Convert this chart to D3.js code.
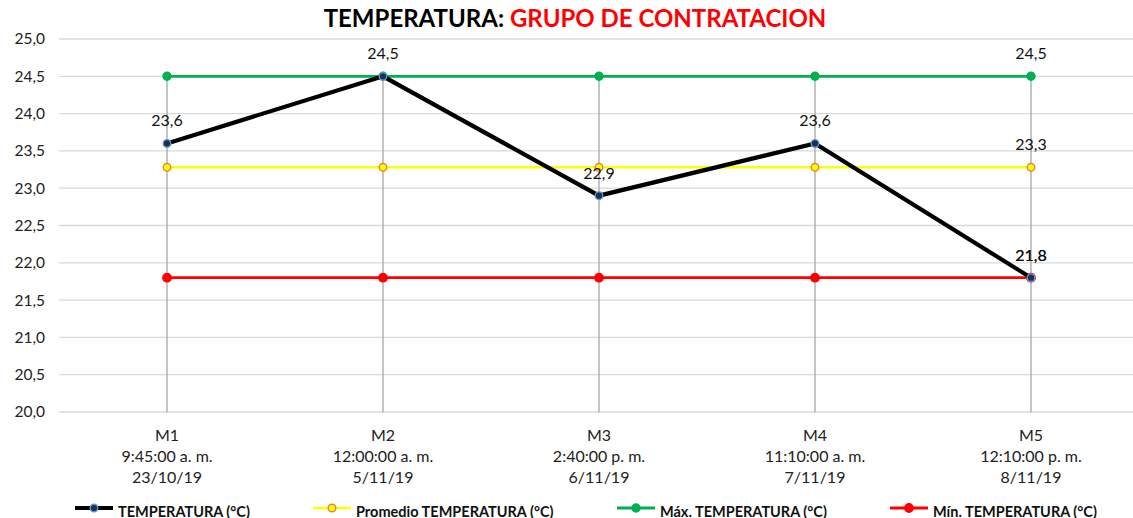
<!DOCTYPE html>
<html>
<head>
<meta charset="utf-8">
<script src="https://cdn.jsdelivr.net/npm/d3@7"></script>
<style>
  html, body { margin: 0; padding: 0; background: #fff; overflow: hidden; }
  svg { display: block; font-family: Lato, "Open Sans", sans-serif; }
</style>
</head>
<body>
<svg id="chart" width="1133" height="518"></svg>
<script>
// Sample labels (three lines each: sample, time, date)
const categories = ["M1", "M2", "M3", "M4", "M5"];
const times = ["9:45:00 a. m.", "12:00:00 a. m.", "2:40:00 p. m.", "11:10:00 a. m.", "12:10:00 p. m."];
const dates = ["23/10/19", "5/11/19", "6/11/19", "7/11/19", "8/11/19"];

// Series values (°C)
const temperatura = [23.6, 24.5, 22.9, 23.6, 21.8];
const promedio = [23.28, 23.28, 23.28, 23.28, 23.28];
const maximo = [24.5, 24.5, 24.5, 24.5, 24.5];
const minimo = [21.8, 21.8, 21.8, 21.8, 21.8];

// Y axis ticks
const yTicks = [20.0, 20.5, 21.0, 21.5, 22.0, 22.5, 23.0, 23.5, 24.0, 24.5, 25.0];

const fmt = v => v.toFixed(1).replace(".", ",");

const svg = d3.select("#chart");
const W = 1133, H = 518;
const plot = { left: 59, right: 1139, top: 39, bottom: 412 };

const x = d3.scaleBand().domain(categories).range([plot.left, plot.right]);
const cx = c => x(c) + x.bandwidth() / 2;
const y = d3.scaleLinear().domain([20, 25]).range([plot.bottom, plot.top]);

// Title
const title = svg.append("text")
  .attr("x", 575).attr("y", 27)
  .attr("text-anchor", "middle")
  .attr("font-size", 24).attr("font-weight", 700);
title.append("tspan").attr("fill", "#000").text("TEMPERATURA: ");
title.append("tspan").attr("fill", "#ff0000").text("GRUPO DE CONTRATACION");

// Horizontal gridlines
svg.append("g")
  .selectAll("line").data(yTicks).join("line")
  .attr("x1", plot.left).attr("x2", W)
  .attr("y1", d => y(d)).attr("y2", d => y(d))
  .attr("stroke", "#d9d9d9").attr("stroke-width", 1.3);

// Y axis labels
const yAxis = svg.append("g")
  .attr("transform", `translate(${plot.left},0)`)
  .call(d3.axisLeft(y).tickValues(yTicks).tickFormat(fmt).tickSize(0).tickPadding(14));
yAxis.select(".domain").remove();
yAxis.selectAll("text").attr("font-size", 15.5).attr("fill", "#222").attr("font-family", "Lato, sans-serif");

// Drop lines from the highest point to the category axis
const rows = categories.map((c, i) => ({ c, hi: Math.max(temperatura[i], promedio[i], maximo[i], minimo[i]) }));
svg.append("g")
  .selectAll("line").data(rows).join("line")
  .attr("x1", d => cx(d.c)).attr("x2", d => cx(d.c))
  .attr("y1", d => y(d.hi)).attr("y2", plot.bottom)
  .attr("stroke", "#a6a6a6").attr("stroke-width", 1.3);

// X axis labels
const xAxis = svg.append("g")
  .attr("transform", `translate(0,${plot.bottom})`)
  .call(d3.axisBottom(x).tickSize(0).tickFormat(""));
xAxis.select(".domain").remove();
xAxis.selectAll(".tick").each(function(c, i) {
  const t = d3.select(this).append("text")
    .attr("text-anchor", "middle").attr("fill", "#222")
    .attr("font-size", 16).attr("font-family", "Lato, sans-serif");
  [categories[i], times[i], dates[i]].forEach((s, k) => {
    t.append("tspan").attr("x", 0).attr("y", 29 + k * 21).text(s);
  });
});

// Series definitions
const series = [
  { name: "TEMPERATURA (°C)", values: temperatura, color: "#000000", width: 4.2, mFill: "#1f2f4f", mStroke: "#5b9bd5", r: 3.8, labels: [0, 1, 2, 3, 4] },
  { name: "Promedio TEMPERATURA (°C)", values: promedio, color: "#ffff00", width: 2.6, mFill: "#ffff00", mStroke: "#ed7d31", r: 3.8, labels: [4] },
  { name: "Máx. TEMPERATURA (°C)", values: maximo, color: "#00b050", width: 2.8, mFill: "#00b050", mStroke: "#00b050", r: 4, labels: [4] },
  { name: "Mín. TEMPERATURA (°C)", values: minimo, color: "#ff0000", width: 2.8, mFill: "#ff0000", mStroke: "#ff0000", r: 4.2, labels: [4] }
];

const line = d3.line().x((d, i) => cx(categories[i])).y(d => y(d));

// Draw order: average, max, min below the temperature line
const drawOrder = [1, 2, 3, 0];
drawOrder.forEach(si => {
  const s = series[si];
  const g = svg.append("g");
  g.append("path").datum(s.values)
    .attr("d", line).attr("fill", "none")
    .attr("stroke", s.color).attr("stroke-width", s.width)
    .attr("stroke-linejoin", "miter");
  g.selectAll("circle").data(s.values).join("circle")
    .attr("cx", (d, i) => cx(categories[i])).attr("cy", d => y(d))
    .attr("r", s.r).attr("fill", s.mFill)
    .attr("stroke", s.mStroke).attr("stroke-width", 1.4);
});

// Data labels
series.forEach(s => {
  svg.append("g").selectAll("text").data(s.labels).join("text")
    .attr("x", i => cx(categories[i]))
    .attr("y", i => y(s.values[i]) - 17)
    .attr("text-anchor", "middle")
    .attr("font-size", 16).attr("fill", "#111")
    .text(i => fmt(s.values[i]));
});

// Legend
const legendX = [75, 313, 617, 890];
const legend = svg.append("g");
series.forEach((s, i) => {
  const g = legend.append("g").attr("transform", `translate(${legendX[i]},508)`);
  g.append("line").attr("x1", 0).attr("x2", 38).attr("y1", 0).attr("y2", 0)
    .attr("stroke", s.color).attr("stroke-width", s.width);
  g.append("circle").attr("cx", 19).attr("cy", 0).attr("r", s.r)
    .attr("fill", s.mFill).attr("stroke", s.mStroke).attr("stroke-width", 1.4);
  g.append("text").attr("x", 43).attr("y", 8.5)
    .attr("font-size", 14.5).attr("font-weight", 700).attr("fill", "#111")
    .text(s.name);
});
</script>
</body>
</html>
